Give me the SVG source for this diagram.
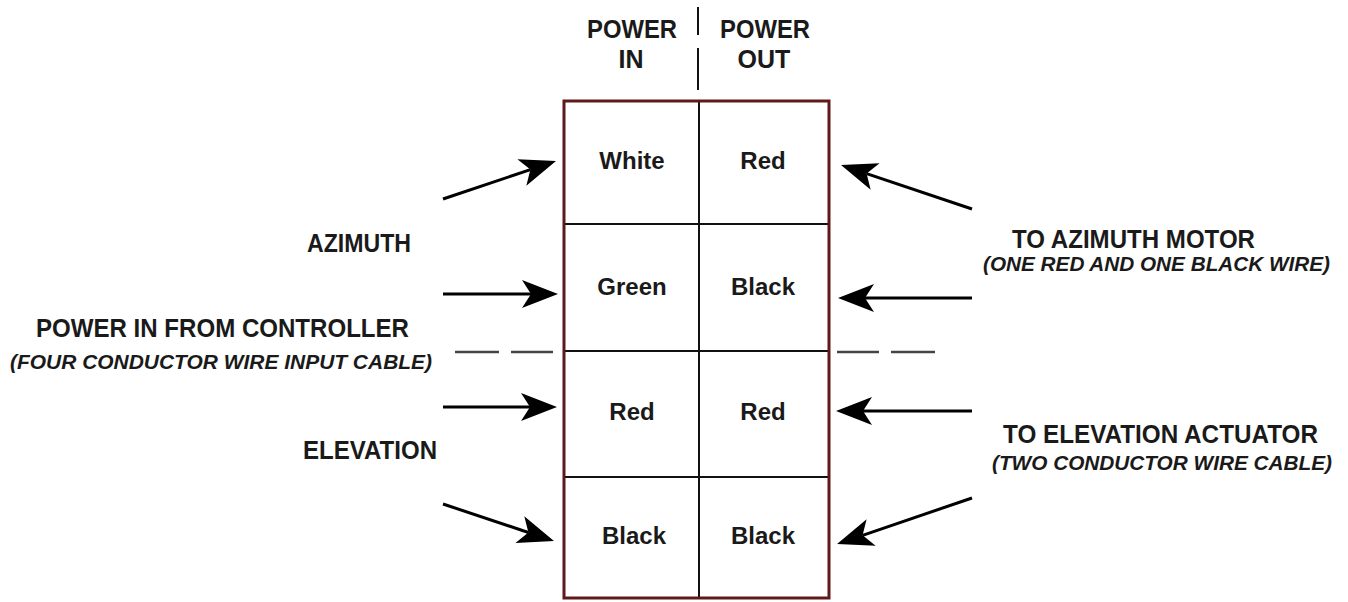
<svg xmlns="http://www.w3.org/2000/svg" width="1348" height="602" viewBox="0 0 1348 602">
<style>
.b{font-family:"Liberation Sans",Arial,sans-serif;font-weight:bold;font-size:25px;fill:#1a1a1a}
.c{font-family:"Liberation Sans",Arial,sans-serif;font-weight:bold;font-size:24px;fill:#1a1a1a;text-anchor:middle}
.i{font-family:"Liberation Sans",Arial,sans-serif;font-weight:bold;font-style:italic;font-size:21px;fill:#1a1a1a}
.m{text-anchor:middle}
.g{stroke:#111;stroke-width:2;fill:none}
.a{stroke:#000;stroke-width:3;fill:none;marker-end:url(#ah)}
.d{stroke:#444;stroke-width:2.5;fill:none}
</style>
<defs>
<marker id="ah" markerUnits="userSpaceOnUse" orient="auto" refX="0" refY="0" markerWidth="40" markerHeight="32" viewBox="-10 -16 40 32" overflow="visible">
<path d="M27,0 L-9,-14 L0,0 L-9,14 Z" fill="#000"/>
</marker>
</defs>
<g id="header">
<line class="g" x1="698" y1="7" x2="698" y2="35"/>
<line class="g" x1="698" y1="48" x2="698" y2="90"/>
<text class="b m" x="632" y="38" textLength="90" lengthAdjust="spacingAndGlyphs">POWER</text>
<text class="b m" x="631" y="68">IN</text>
<text class="b m" x="765" y="38" textLength="90" lengthAdjust="spacingAndGlyphs">POWER</text>
<text class="b m" x="764" y="68">OUT</text>
</g>
<g id="terminal-block">
<line class="g" x1="699" y1="100" x2="699" y2="599"/>
<line class="g" x1="563" y1="224" x2="830" y2="224"/>
<line class="g" x1="563" y1="351" x2="830" y2="351"/>
<line class="g" x1="563" y1="477" x2="830" y2="477"/>
<rect x="564" y="101" width="265" height="497" fill="none" stroke="#5e1a1a" stroke-width="3"/>
</g>
<g id="cell-white"><text class="c" x="632" y="169">White</text></g>
<g id="cell-red-out1"><text class="c" x="763" y="169">Red</text></g>
<g id="cell-green"><text class="c" x="632" y="295">Green</text></g>
<g id="cell-black-out1"><text class="c" x="763" y="295">Black</text></g>
<g id="cell-red-in"><text class="c" x="632" y="420">Red</text></g>
<g id="cell-red-out2"><text class="c" x="763" y="420">Red</text></g>
<g id="cell-black-in"><text class="c" x="634" y="544">Black</text></g>
<g id="cell-black-out2"><text class="c" x="763" y="544">Black</text></g>
<g id="label-azimuth"><text class="b" x="307" y="252" textLength="104" lengthAdjust="spacingAndGlyphs">AZIMUTH</text></g>
<g id="label-power-in">
<text class="b" x="36" y="337" textLength="373" lengthAdjust="spacingAndGlyphs">POWER IN FROM CONTROLLER</text>
<text class="i" x="10" y="369" textLength="422" lengthAdjust="spacingAndGlyphs">(FOUR CONDUCTOR WIRE INPUT CABLE)</text>
</g>
<g id="label-elevation"><text class="b" x="303" y="459" textLength="134" lengthAdjust="spacingAndGlyphs">ELEVATION</text></g>
<g id="label-az-motor">
<text class="b" x="1012" y="248" textLength="243" lengthAdjust="spacingAndGlyphs">TO AZIMUTH MOTOR</text>
<text class="i" x="983" y="271" textLength="347" lengthAdjust="spacingAndGlyphs">(ONE RED AND ONE BLACK WIRE)</text>
</g>
<g id="label-el-actuator">
<text class="b" x="1003" y="443" textLength="315" lengthAdjust="spacingAndGlyphs">TO ELEVATION ACTUATOR</text>
<text class="i" x="992" y="470" textLength="340" lengthAdjust="spacingAndGlyphs">(TWO CONDUCTOR WIRE CABLE)</text>
</g>
<g id="connectors">
<line class="a" x1="443" y1="199" x2="530.4" y2="169.6"/>
<line class="a" x1="443" y1="294" x2="531" y2="294"/>
<line class="a" x1="443" y1="407" x2="530" y2="407"/>
<line class="a" x1="443" y1="504" x2="528.4" y2="532.5"/>
<line class="a" x1="972" y1="209" x2="866.6" y2="173.6"/>
<line class="a" x1="972" y1="298" x2="865" y2="298"/>
<line class="a" x1="972" y1="411" x2="863" y2="411"/>
<line class="a" x1="972" y1="498" x2="862.6" y2="535.3"/>
<line class="d" x1="455" y1="352" x2="499" y2="352"/>
<line class="d" x1="511" y1="352" x2="553" y2="352"/>
<line class="d" x1="837" y1="352" x2="879" y2="352"/>
<line class="d" x1="891" y1="352" x2="935" y2="352"/>
</g>
</svg>
